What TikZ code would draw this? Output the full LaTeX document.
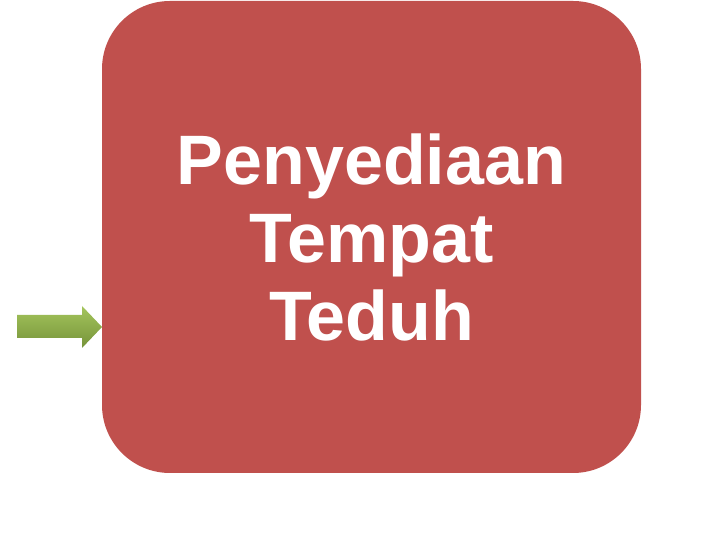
\documentclass[tikz,border=0pt]{standalone}
\usepackage{fontspec}
\setmainfont{Liberation Sans}
\definecolor{boxred}{HTML}{C0504D}
\definecolor{arrowtop}{HTML}{A4C55C}
\definecolor{arrowbottom}{HTML}{76933A}
\begin{document}
\begin{tikzpicture}[
        x = 1pt,
        y = 1pt,
        box/.style = {fill = boxred, draw = none, rounded corners = 68pt,
            minimum width = 539pt, minimum height = 472pt, inner sep = 0pt,
            text = white, align = center,
            font = \fontsize{70}{78}\selectfont\bfseries}
    ]
        \useasboundingbox (0,0) rectangle (720,540);
        \node[box] (teduh) at (371.5,303) {Penyediaan\\Tempat\\Teduh};
        \shade[top color = arrowtop, bottom color = arrowbottom] (17,225) -- (82,225) -- (82,234) -- (102,213) -- (82,192) -- (82,202) -- (17,202) -- cycle;
    \end{tikzpicture}
\end{document}
